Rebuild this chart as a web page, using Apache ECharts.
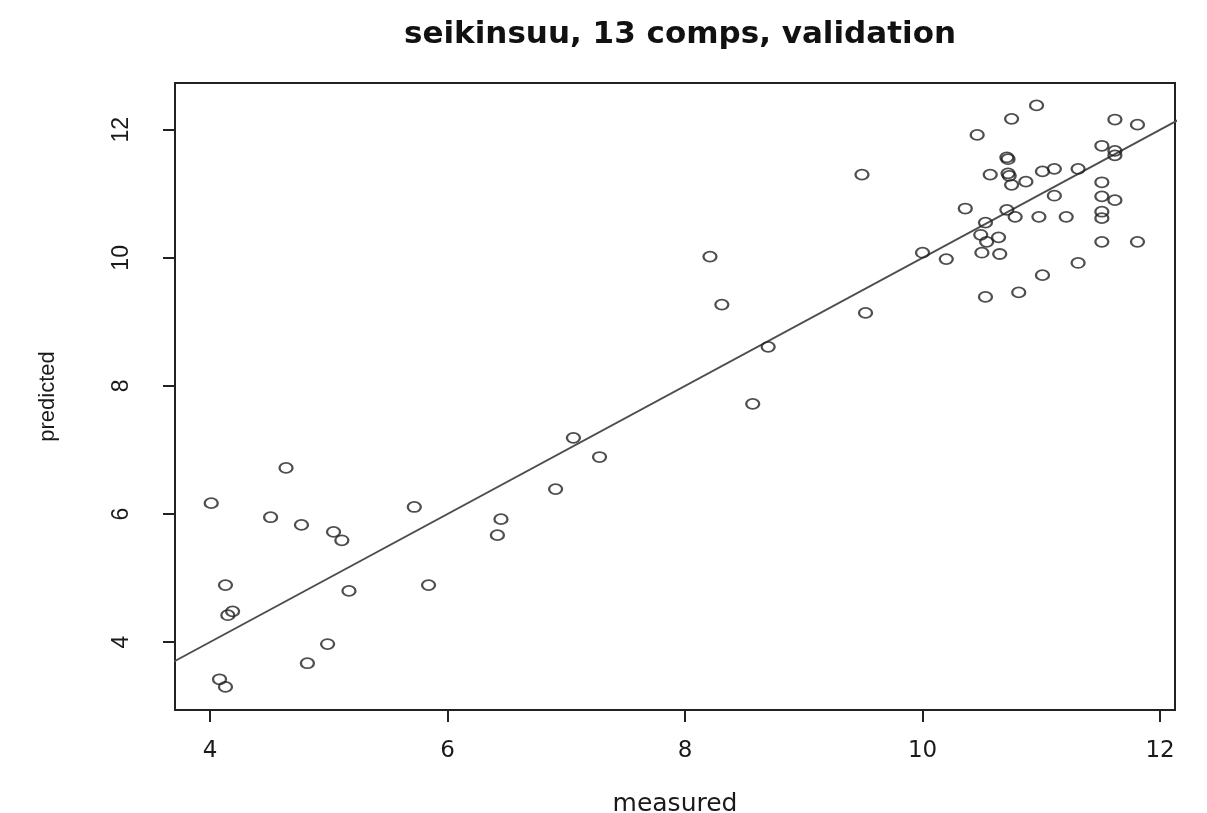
<!DOCTYPE html>
<html>
<head>
<meta charset="utf-8">
<script src="https://cdn.jsdelivr.net/npm/echarts@6/dist/echarts.min.js"></script>
<style>html,body{margin:0;padding:0;background:#fff;}#c{width:1207px;height:813px;}</style>
</head>
<body>
<div id="c"></div>
<script>
var titleText = 'seikinsuu, 13 comps, validation';
var xName = 'measured';
var yName = 'predicted';
var tickValues = [4, 6, 8, 10, 12];
var measured = [
  4.01, 4.13, 4.15, 4.19, 4.08, 4.13, 4.64, 4.51, 4.77, 5.04,
  5.11, 5.17, 4.82, 4.99, 5.72, 5.84, 6.42, 6.45, 6.91, 7.06,
  7.28, 8.21, 8.31, 8.57, 8.70, 9.49, 9.52, 10.00,
  10.96, 10.75, 10.46, 11.62, 11.81, 10.71, 10.72, 11.51, 11.62, 11.62,
  10.57, 10.72, 10.73, 10.75, 10.87, 11.01, 11.11, 11.31, 11.51, 11.11,
  11.51, 11.62, 10.36, 10.71, 10.78, 10.98, 11.21, 11.51, 11.51, 10.53,
  10.49, 10.64, 10.54, 10.20, 10.50, 10.65, 11.51, 11.81, 11.31, 11.01,
  10.81, 10.53
];
var predicted = [
  6.17, 4.89, 4.42, 4.48, 3.42, 3.30, 6.72, 5.95, 5.83, 5.72,
  5.59, 4.80, 3.67, 3.97, 6.11, 4.89, 5.67, 5.92, 6.39, 7.19,
  6.89, 10.02, 9.27, 7.72, 8.61, 11.30, 9.14, 10.08,
  12.38, 12.17, 11.92, 12.16, 12.08, 11.57, 11.54, 11.75, 11.67, 11.60,
  11.30, 11.32, 11.28, 11.14, 11.19, 11.35, 11.39, 11.39, 11.18, 10.97,
  10.96, 10.90, 10.77, 10.75, 10.64, 10.64, 10.64, 10.72, 10.62, 10.55,
  10.36, 10.32, 10.25, 9.98, 10.08, 10.06, 10.25, 10.25, 9.92, 9.73,
  9.46, 9.39
];
// identity reference line y = x (clipped to the plot area)
var refLineX = [3, 13];
var refLineY = [3, 13];

var points = measured.map(function (m, i) { return [m, predicted[i]]; });
var refLine = refLineX.map(function (x, i) { return [x, refLineY[i]]; });

var chart = echarts.init(document.getElementById('c'), null, {renderer: 'canvas'});
chart.setOption({
  animation: false,
  backgroundColor: '#fff',
  title: {
    text: titleText,
    left: 675,
    textAlign: 'center',
    top: 14,
    textStyle: {fontFamily: 'DejaVu Sans', fontWeight: 'bold', fontSize: 31, color: '#111'}
  },
  grid: {left: 175, right: 32, top: 83, bottom: 103, containLabel: false, outerBoundsMode: 'none',
         show: true, borderColor: '#222', borderWidth: 2, backgroundColor: 'transparent'},
  xAxis: {
    type: 'value', min: 3.705, max: 12.126,
    name: xName, nameLocation: 'middle', nameGap: 82,
    nameTextStyle: {fontFamily: 'DejaVu Sans', fontSize: 25, color: '#1a1a1a'},
    axisLine: {show: false, onZero: false},
    axisTick: {show: true, length: 12, customValues: tickValues, lineStyle: {color: '#222', width: 2}},
    axisLabel: {customValues: tickValues, margin: 30, fontFamily: 'DejaVu Sans', fontSize: 23, color: '#1a1a1a'},
    splitLine: {show: false}
  },
  yAxis: {
    type: 'value', min: 2.94, max: 12.73,
    name: yName, nameLocation: 'middle', nameGap: 116, nameRotate: 90,
    nameTextStyle: {fontFamily: 'Liberation Sans', fontSize: 22, color: '#1a1a1a'},
    axisLine: {show: false, onZero: false},
    axisTick: {show: true, length: 12, customValues: tickValues, lineStyle: {color: '#222', width: 2}},
    axisLabel: {customValues: tickValues, rotate: 90, margin: 42, fontFamily: 'Liberation Sans', fontSize: 23, color: '#1a1a1a'},
    splitLine: {show: false}
  },
  series: [
    {
      type: 'line', data: refLine, showSymbol: false, clip: true, z: 1,
      lineStyle: {color: '#4d4d4d', width: 1.8}
    },
    {
      type: 'scatter', data: points, symbol: 'circle', symbolSize: [13, 10], z: 2,
      itemStyle: {color: 'rgba(0,0,0,0)', borderColor: '#222', borderWidth: 2}
    }
  ]
});
</script>
</body>
</html>
